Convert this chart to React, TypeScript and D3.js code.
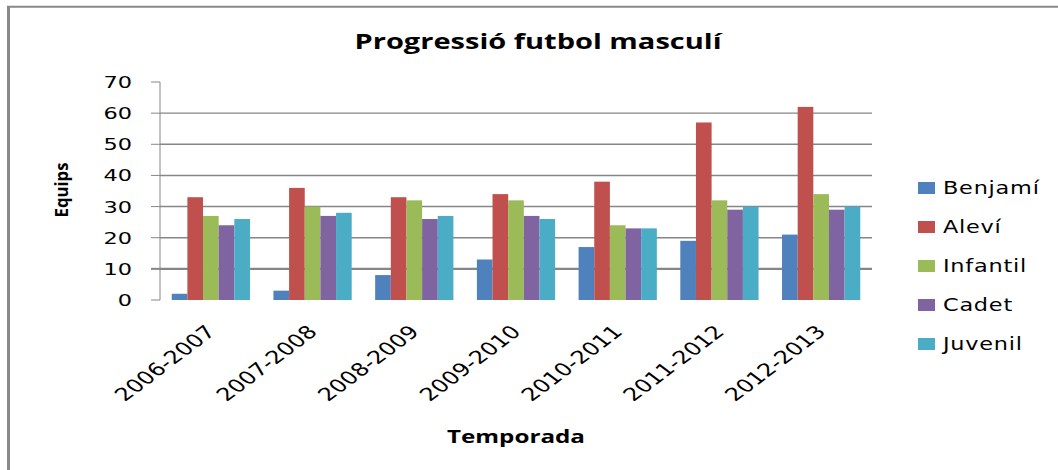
import React from "react";
import * as d3 from "d3";

const categories = ["2006-2007", "2007-2008", "2008-2009", "2009-2010", "2010-2011", "2011-2012", "2012-2013"];
const seriesNames = ["Benjamí", "Aleví", "Infantil", "Cadet", "Juvenil"];
const benjami = [2, 3, 8, 13, 17, 19, 21];
const alevi = [33, 36, 33, 34, 38, 57, 62];
const infantil = [27, 30, 32, 32, 24, 32, 34];
const cadet = [24, 27, 26, 27, 23, 29, 29];
const juvenil = [26, 28, 27, 26, 23, 30, 30];
const seriesValues = [benjami, alevi, infantil, cadet, juvenil];
const colors = ["#4F81BD", "#C0504D", "#9BBB59", "#8064A2", "#4BACC6"];
const yTicks = [0, 10, 20, 30, 40, 50, 60, 70];
const gridTicks = [10, 20, 30, 40, 50, 60];

const W = 1058;
const H = 470;
const plotLeft = 160;
const plotRight = 872;
const plotTop = 82;
const plotBottom = 300;

export default function App() {
  const x = d3
    .scaleBand<string>()
    .domain(categories)
    .range([plotLeft, plotRight])
    .paddingInner(1.5 / 6.5)
    .paddingOuter(0.75 / 6.5);
  const xs = d3
    .scaleBand<string>()
    .domain(seriesNames)
    .range([0, x.bandwidth()])
    .padding(0);
  const y = d3.scaleLinear().domain([0, 70]).range([plotBottom, plotTop]);
  const grey = "#868686";
  const sx = 1.33;

  return (
    <svg
      width={W}
      height={H}
      style={{ position: "absolute", left: 0, top: 0, background: "#fff" }}
      fontFamily="'DejaVu Sans', sans-serif"
    >
      <rect x={0} y={0} width={W} height={H} fill="#fff" />
      {/* outer frame */}
      <line x1={7} x2={W} y1={6.7} y2={6.7} stroke="#888" strokeWidth={2} />
      <line x1={8.5} x2={8.5} y1={6} y2={H} stroke="#888" strokeWidth={3} />

      {/* title */}
      <text
        x={538}
        y={49}
        textAnchor="middle"
        fontFamily="'Open Sans', sans-serif"
        fontWeight={700}
        fontSize={21.5}
        textLength={367}
        lengthAdjust="spacingAndGlyphs"
        fill="#000"
      >
        Progressió futbol masculí
      </text>

      {/* gridlines */}
      {gridTicks.map((t) => (
        <line
          key={"g" + t}
          x1={plotLeft}
          x2={plotRight}
          y1={y(t)}
          y2={y(t)}
          stroke={grey}
          strokeWidth={t === 10 ? 2.2 : 1.4}
        />
      ))}

      {/* y axis */}
      <line x1={plotLeft} x2={plotLeft} y1={plotTop} y2={plotBottom} stroke={grey} strokeWidth={1} />
      {yTicks.map((t) => (
        <g key={"t" + t}>
          <line x1={151} x2={plotLeft} y1={y(t)} y2={y(t)} stroke={grey} strokeWidth={t === 10 ? 2 : 1} />
          <text
            transform={`translate(132,${y(t) + 6}) scale(1.4,1)`}
            textAnchor="end"
            fontSize={16}
            fill="#000"
          >
            {t}
          </text>
        </g>
      ))}

      {/* bars */}
      {categories.map((c, ci) => (
        <g key={c} transform={`translate(${x(c)},0)`}>
          {seriesNames.map((s, si) => {
            const v = seriesValues[si][ci];
            return (
              <rect
                key={s}
                x={xs(s)}
                y={y(v)}
                width={xs.bandwidth()}
                height={y(0) - y(v)}
                fill={colors[si]}
              />
            );
          })}
        </g>
      ))}

      {/* x tick labels */}
      {categories.map((c) => (
        <text
          key={"xl" + c}
          transform={`translate(${(x(c) as number) + x.bandwidth() / 2 + 6},333) scale(${sx},1) rotate(-45)`}
          textAnchor="end"
          fontSize={18}
          fill="#000"
        >
          {c}
        </text>
      ))}

      {/* axis titles */}
      <text
        x={516}
        y={443}
        textAnchor="middle"
        fontFamily="'Open Sans', sans-serif"
        fontWeight={700}
        fontSize={18}
        textLength={138}
        lengthAdjust="spacingAndGlyphs"
        fill="#000"
      >
        Temporada
      </text>
      <text
        transform="translate(68,190) rotate(-90)"
        textAnchor="middle"
        fontFamily="'Open Sans', sans-serif"
        fontWeight={700}
        fontSize={18}
        textLength={55}
        lengthAdjust="spacingAndGlyphs"
        fill="#000"
      >
        Equips
      </text>

      {/* legend */}
      {seriesNames.map((s, i) => {
        const cy = 188 + i * 39;
        return (
          <g key={"lg" + s}>
            <rect x={918} y={cy - 6} width={17} height={12} fill={colors[i]} />
            <text
              transform={`translate(943,${cy + 6}) scale(1.28,1)`}
              fontSize={17.5}
              letterSpacing={0.6}
              fill="#000"
            >
              {s}
            </text>
          </g>
        );
      })}
    </svg>
  );
}
